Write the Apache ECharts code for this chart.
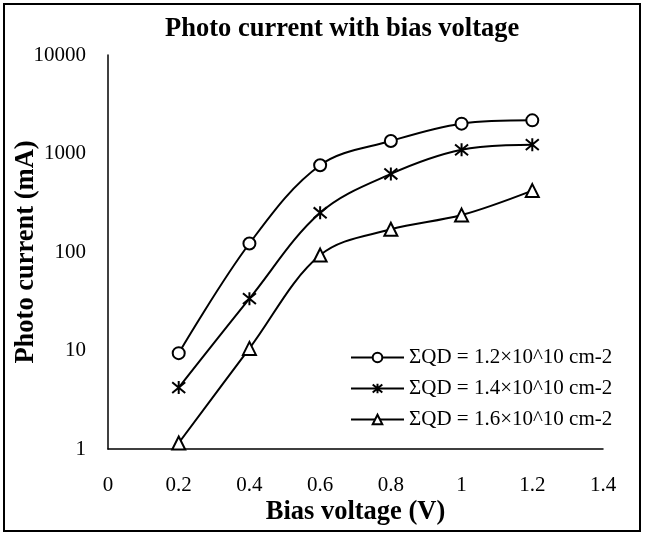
<!DOCTYPE html>
<html>
<head>
<meta charset="utf-8">
<script src="https://cdn.jsdelivr.net/npm/echarts@6/dist/echarts.min.js"></script>
<style>html,body{margin:0;padding:0;background:#fff}#c{width:645px;height:534px}</style>
</head>
<body>
<div id="c"></div>
<script>
const voltages = [0.2, 0.4, 0.6, 0.8, 1.0, 1.2];
const seriesNames = ['ΣQD = 1.2×10^10 cm-2', 'ΣQD = 1.4×10^10 cm-2', 'ΣQD = 1.6×10^10 cm-2'];
const qd12 = [9.4, 122, 760, 1340, 2010, 2170];
const qd14 = [4.2, 33.6, 250, 620, 1090, 1230];
const qd16 = [1.15, 10.5, 93, 170, 237, 420];

const FONT = 'Liberation Serif';
const starPath = 'path://M0 0L10 10M10 0L0 10M5 -1L5 11';

function pairs(vals) { return voltages.map((x, i) => [x, vals[i]]); }

const chart = echarts.init(document.getElementById('c'));
const common = {
  type: 'line', smooth: 0.35, lineStyle: { color: '#000', width: 2 },
  itemStyle: { color: '#fff', borderColor: '#000', borderWidth: 2 },
  color: '#000', showSymbol: true
};
chart.setOption({
  backgroundColor: '#fff',
  animation: false,
  title: {
    text: 'Photo current with bias voltage', left: 165, top: 16, padding: 0,
    textStyle: { fontFamily: FONT, fontWeight: 'bold', fontSize: 26.5, color: '#000' }
  },
  graphic: [{
    type: 'rect', shape: { x: 4, y: 4, width: 636, height: 527 },
    style: { fill: 'none', stroke: '#000', lineWidth: 2 }, silent: true
  }],
  grid: { left: 108, right: 42, top: 55, bottom: 85, containLabel: false, outerBoundsMode: 'none' },
  legend: {
    orient: 'vertical', left: 350, top: 347, padding: 0, itemWidth: 53, itemHeight: 12, itemGap: 10,
    textStyle: { fontFamily: FONT, fontSize: 21, color: '#000', lineHeight: 21 },
    data: seriesNames
  },
  xAxis: {
    type: 'value', min: 0, max: 1.4, interval: 0.2,
    name: 'Bias voltage (V)', nameLocation: 'middle', nameGap: 50, nameMoveOverlap: false,
    nameTextStyle: { fontFamily: FONT, fontWeight: 'bold', fontSize: 26.5, color: '#000' },
    axisLine: { lineStyle: { color: '#000', width: 1.5 } },
    axisTick: { show: false }, splitLine: { show: false },
    axisLabel: { fontFamily: FONT, fontSize: 21, color: '#000', margin: 26,
      showMinLabel: true, showMaxLabel: true,
      formatter: v => String(Math.round(v * 10) / 10) }
  },
  yAxis: {
    type: 'log', logBase: 10, min: 1, max: 10000,
    name: 'Photo current (mA)', nameLocation: 'middle', nameGap: 68, nameMoveOverlap: false,
    nameTextStyle: { fontFamily: FONT, fontWeight: 'bold', fontSize: 26.5, color: '#000' },
    axisLine: { show: true, lineStyle: { color: '#000', width: 1.5 } },
    axisTick: { show: false }, splitLine: { show: false },
    axisLabel: { fontFamily: FONT, fontSize: 21, color: '#000', margin: 22,
      formatter: v => String(Math.round(v)) }
  },
  series: [
    Object.assign({}, common, { name: seriesNames[0], data: pairs(qd12), symbol: 'circle', symbolSize: 12 }),
    Object.assign({}, common, { name: seriesNames[1], data: pairs(qd14), symbol: starPath, symbolSize: 13 }),
    Object.assign({}, common, { name: seriesNames[2], data: pairs(qd16), symbol: 'triangle', symbolSize: 13 })
  ]
});
</script>
</body>
</html>
